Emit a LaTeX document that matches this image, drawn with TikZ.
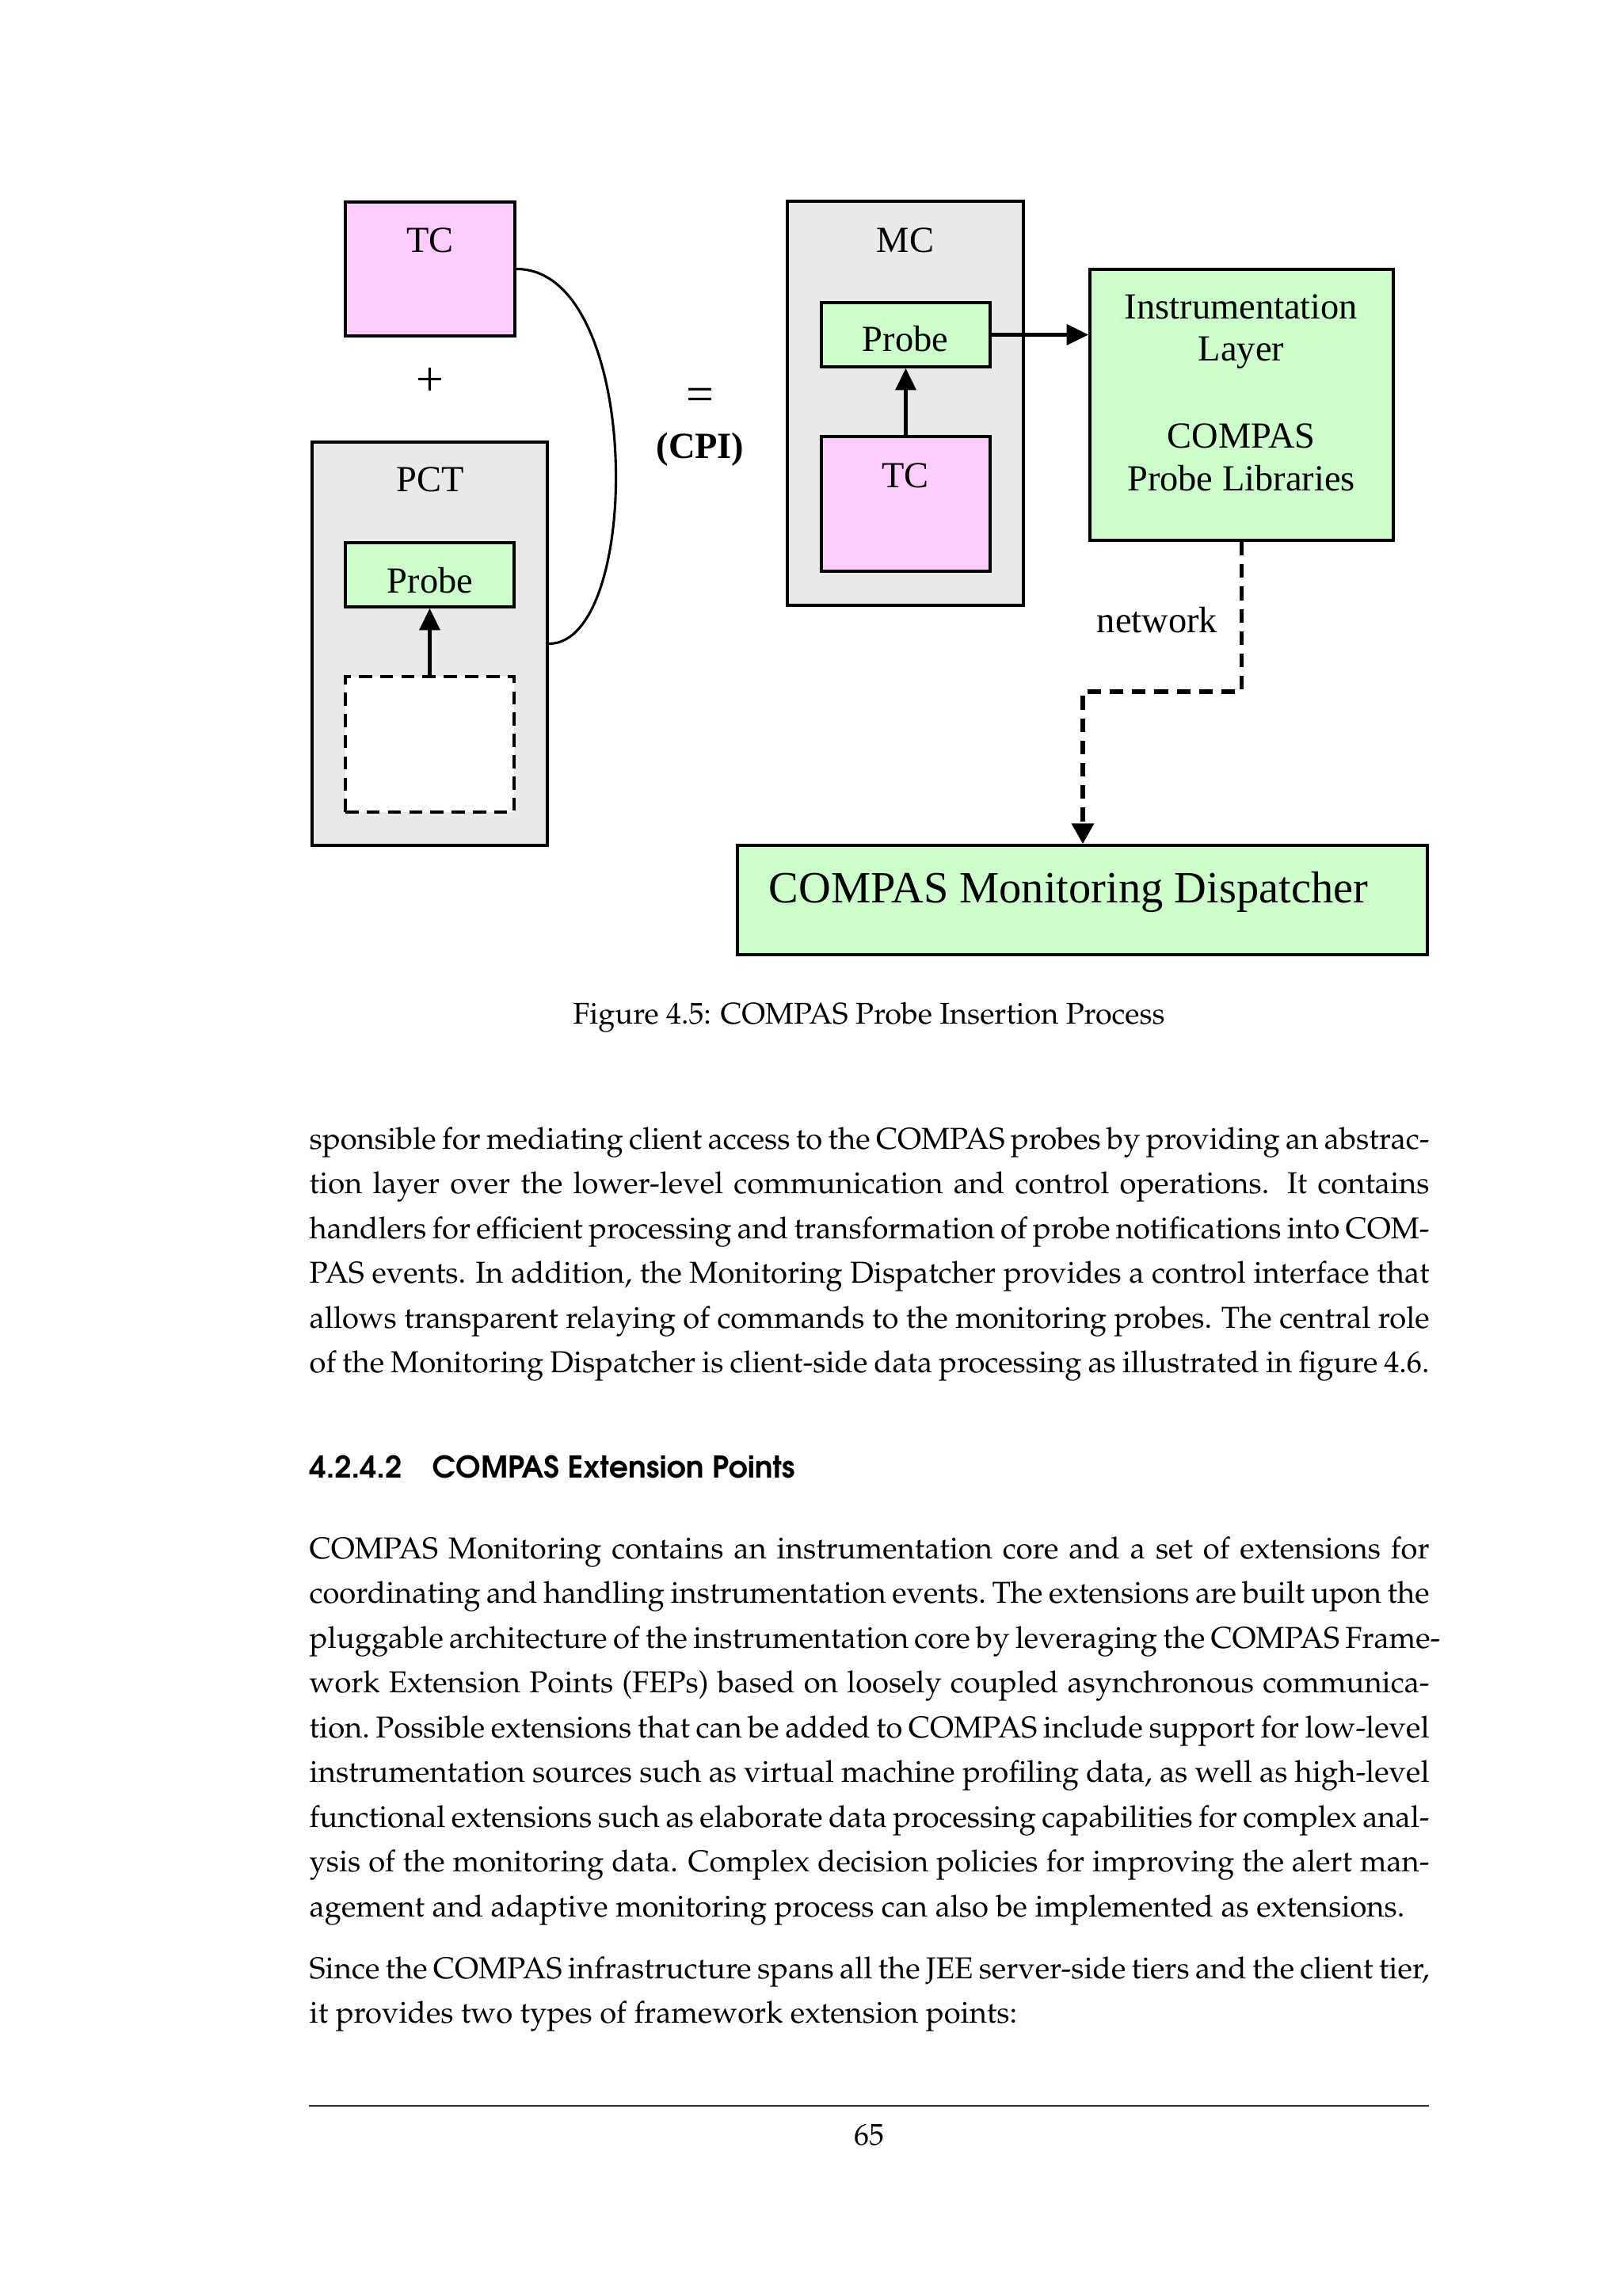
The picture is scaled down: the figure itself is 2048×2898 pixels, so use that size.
\documentclass[tikz,border=0pt]{standalone}
\usepackage[T1]{fontenc}
\usepackage{fontspec}
\newfontfamily\timesf{Liberation Serif}
\usetikzlibrary{fit,arrows.meta}
\newcommand\bodyfont{\fontencoding{T1}\fontfamily{ppl}\fontseries{m}\fontshape{n}\fontsize{11.1}{13.6}\selectfont}
\newcommand\capfont{\fontencoding{T1}\fontfamily{ppl}\fontseries{m}\fontshape{n}\fontsize{11}{13.6}\selectfont}
\newcommand\headfont{\fontencoding{T1}\fontfamily{pag}\fontseries{db}\fontshape{n}\fontsize{11}{13}\selectfont}
\newcommand\jl[1]{\makebox[411pt][s]{#1}}
\definecolor{pinkfill}{HTML}{FFCCFF}
\definecolor{greenfill}{HTML}{CCFFCC}
\definecolor{grayfill}{HTML}{E9E9E9}
\tikzset{
  box/.style={draw=black, line width=1.1pt, inner sep=0pt},
  pinkbox/.style={box, fill=pinkfill},
  greenbox/.style={box, fill=greenfill},
  graybox/.style={box, fill=grayfill},
  dashbox/.style={draw=black, line width=1.1pt, inner sep=0pt, fill=white, dash pattern=on 4.8pt off 3pt},
  dlabel/.style={anchor=base, inner sep=0pt, font=\timesf\fontsize{13.5}{15.7}\selectfont},
  biglabel/.style={anchor=center, inner sep=0pt, font=\timesf\fontsize{18}{20}\selectfont},
  arr/.style={line width=1.3pt, -{Triangle[length=8pt,width=7.5pt]}},
  netarr/.style={line width=1.5pt, dash pattern=on 5pt off 3.2pt, -{Triangle[length=7.5pt,width=8pt]}},
  curve/.style={line width=0.9pt},
  body/.style={anchor=base west, inner sep=0pt, font=\bodyfont},
}
\begin{document}
\begin{tikzpicture}[x=0.29068pt,y=-0.29068pt]
\useasboundingbox[fill=white] (0,0) rectangle (2048,2898);

% ---- left part
\node[pinkbox, fit={(436,255) (650,424)}] (tc1) {};
\node[dlabel] (tc1lbl) at (543,319) {TC};
\node[biglabel] (plus) at (543,482) {+};
\node[graybox, fit={(394,558) (691,1067)}] (pct) {};
\node[dlabel] (pctlbl) at (543,621) {PCT};
\node[greenbox, fit={(436,685) (649,766)}] (probe1) {};
\node[dlabel] (probe1lbl) at (543,748) {Probe};
\node[dashbox, fit={(436,854) (649,1025)}] (hole) {};
\draw[arr] (hole.north) -- (probe1.south);
\draw[curve] (tc1.east) .. controls +(160,0) and +(119,0) .. (pct.east);

% ---- equals
\node[biglabel] (eq) at (884,504) {=};
\node[dlabel, font=\timesf\bfseries\fontsize{13.5}{15.7}\selectfont] (cpi) at (884,579) {(CPI)};

% ---- MC
\node[graybox, fit={(994,254) (1292,764)}] (mc) {};
\node[dlabel] (mclbl) at (1143,319) {MC};
\node[greenbox, fit={(1037,382) (1250,463)}] (probe2) {};
\node[dlabel] (probe2lbl) at (1143,444) {Probe};
\node[pinkbox, fit={(1037,551) (1250,721)}] (tc2) {};
\node[dlabel] (tc2lbl) at (1143,615) {TC};
\draw[arr] (tc2.north) -- (probe2.south);

% ---- instrumentation layer
\node[greenbox, fit={(1376,340) (1759,682)}] (il) {};
\node[dlabel] (il1) at (1567,403) {Instrumentation};
\node[dlabel] (il2) at (1567,456) {Layer};
\node[dlabel] (il3) at (1567,565) {COMPAS};
\node[dlabel] (il4) at (1567,619) {Probe Libraries};
\draw[arr] (probe2.east) -- (probe2.east -| il.west);

% ---- network + dispatcher
\node[greenbox, fit={(931,1067) (1802,1205)}] (disp) {};
\node[anchor=base west, inner sep=0pt, font=\timesf\fontsize{16.4}{19}\selectfont] (displbl) at (970,1139) {COMPAS Monitoring Dispatcher};
\node[dlabel] (net) at (1461,798) {network};
\coordinate (nb) at (1367,873);
\draw[netarr] (il.south) |- (nb) -- (nb |- disp.north);

% ---- caption
\node[anchor=base, inner sep=0pt, font=\capfont] (cap) at (1097,1292) {Figure 4.5: COMPAS Probe Insertion Process};

% ---- body text
\node[body] (a1) at (390,1450) {\jl{sponsible for mediating client access to the COMPAS probes by providing an abstrac-}};
\node[body] (a2) at (390,1506) {\jl{tion layer over the lower-level communication and control operations.  It contains}};
\node[body] (a3) at (390,1563) {\jl{handlers for efficient processing and transformation of probe notifications into COM-}};
\node[body] (a4) at (390,1619) {\jl{PAS events.  In addition, the Monitoring Dispatcher provides a control interface that}};
\node[body] (a5) at (390,1676) {\jl{allows transparent relaying of commands to the monitoring probes.  The central role}};
\node[body] (a6) at (390,1732) {\jl{of the Monitoring Dispatcher is client-side data processing as illustrated in figure 4.6.}};

\node[anchor=base west, inner sep=0pt, font=\headfont] (hnum) at (390,1865) {4.2.4.2};
\node[anchor=base west, inner sep=0pt, font=\headfont] (htitle) at (545,1865) {COMPAS Extension Points};

\node[body] (b1) at (390,1967) {\jl{COMPAS Monitoring contains an instrumentation core and a set of extensions for}};
\node[body] (b2) at (390,2023) {\jl{coordinating and handling instrumentation events.\ The extensions are built upon the}};
\node[body] (b3) at (390,2080) {\jl{pluggable architecture of the instrumentation core by leveraging the COMPAS Frame-}};
\node[body] (b4) at (390,2136) {\jl{work Extension Points (FEPs) based on loosely coupled asynchronous communica-}};
\node[body] (b5) at (390,2193) {\jl{tion.\ Possible extensions that can be added to COMPAS include support for low-level}};
\node[body] (b6) at (390,2249) {\jl{instrumentation sources such as virtual machine profiling data, as well as high-level}};
\node[body] (b7) at (390,2306) {\jl{functional extensions such as elaborate data processing capabilities for complex anal-}};
\node[body] (b8) at (390,2362) {\jl{ysis of the monitoring data.  Complex decision policies for improving the alert man-}};
\node[body] (b9) at (390,2419) {agement and adaptive monitoring process can also be implemented as extensions.};

\node[body] (c1) at (390,2497) {\jl{Since the COMPAS infrastructure spans all the JEE server-side tiers and the client tier,}};
\node[body] (c2) at (390,2553) {it provides two types of framework extension points:};

% ---- footer
\coordinate (rl) at (390,2658);
\coordinate (rr) at (1804,2658);
\draw[line width=0.6pt, draw=black!80] (rl) -- (rr);
\node[anchor=base, inner sep=0pt, font=\capfont] (pageno) at (1097,2707) {65};
\end{tikzpicture}
\end{document}
